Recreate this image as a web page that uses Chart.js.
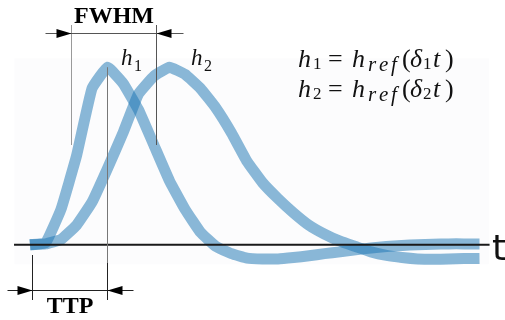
<!DOCTYPE html>
<html>
<head>
<meta charset="utf-8">
<script src="https://cdn.jsdelivr.net/npm/chart.js@4"></script>
<style>
  body { margin: 0; background: #fff; }
  canvas { display: block; }
</style>
</head>
<body>
<canvas id="hrf" width="505" height="320"></canvas>
<script>
// time samples (arbitrary units)
const t = [0,1,2,3,4,5,6,7,8,9,10,11,12,13,14,15,16,17,18,19,20,21,22,23,24,25,26,27,28,29];
// h1 = h_ref(d1 t)  (fast response)
const h1 = [0, 0.01, 0.2, 0.5, 0.88, 1.0, 0.91, 0.76, 0.56, 0.36, 0.2, 0.07, -0.01, -0.05, -0.075, -0.08,
  -0.08, -0.072, -0.062, -0.05, -0.04, -0.028, -0.018, -0.01, -0.004, 0.0, 0.003, 0.005, 0.005, 0.005];
// h2 = h_ref(d2 t)  (slow response)
const h2 = [0, 0.005, 0.03, 0.11, 0.24, 0.43, 0.63, 0.85, 0.95, 1.0, 0.96, 0.88, 0.77, 0.63, 0.47, 0.35,
  0.26, 0.18, 0.11, 0.06, 0.02, -0.01, -0.04, -0.06, -0.072, -0.08, -0.082, -0.08, -0.078, -0.077];

// annotation anchors, in data units
const fwhmFrom = 2.64, fwhmTo = 8.13;
const ttpFrom = 0.13, ttpPeak = 5;

const blue = "rgba(31,119,180,0.52)";
const toPts = (ys) => ys.map((y, i) => ({ x: t[i], y: y }));

function arrow(ctx, x, y, dir) {
  // filled arrow head with tip at (x,y); dir = 1 points right, -1 points left
  ctx.beginPath();
  ctx.moveTo(x, y);
  ctx.lineTo(x - dir * 15, y - 4.5);
  ctx.lineTo(x - dir * 15, y + 4.5);
  ctx.closePath();
  ctx.fill();
}

const FONTS = {
  i: "italic 26px 'Liberation Serif'",
  r: "26px 'Liberation Serif'",
  s: "17px 'Liberation Serif'",
  si: "italic 21px 'Liberation Serif'",
};

function mathText(ctx, parts, x, y) {
  // parts: [text, font kind, x offset, y offset]
  for (const [s, k, dx, dy] of parts) {
    ctx.font = FONTS[k];
    ctx.fillText(s, x + dx, y + dy);
  }
}

function equation(ctx, n, x, y) {
  mathText(ctx, [
    ["h", "i", 0, 0], [n, "s", 15, 2], ["=", "r", 30, 0], ["h", "i", 54, 0],
    ["r", "si", 70, 4], ["e", "si", 81, 4], ["f", "si", 93, 4],
    ["(", "r", 104, 0], ["δ", "i", 112, 0], [n, "s", 125, 2], ["t", "i", 135, 0], [")", "r", 147, 0],
  ], x, y);
}

const decor = {
  id: "decor",
  beforeDatasetsDraw(chart) {
    const { ctx, scales: { x, y } } = chart;
    ctx.save();
    ctx.fillStyle = "#fcfcfd";
    ctx.fillRect(x.getPixelForValue(-1.0), y.getPixelForValue(1.05), x.getPixelForValue(29.6) - x.getPixelForValue(-1.0),
      y.getPixelForValue(-0.11) - y.getPixelForValue(1.05));
    ctx.restore();
  },
  afterDatasetsDraw(chart) {
    const { ctx, scales: { x, y } } = chart;
    const y0 = y.getPixelForValue(0);
    ctx.save();
    // time axis
    ctx.strokeStyle = "#1a1a1a";
    ctx.lineWidth = 2;
    ctx.beginPath();
    ctx.moveTo(x.getPixelForValue(-1.03), y0);
    ctx.lineTo(x.getPixelForValue(29.65), y0);
    ctx.stroke();
    ctx.fillStyle = "#111";
    ctx.font = "36px 'DejaVu Sans'";
    ctx.textBaseline = "alphabetic";
    ctx.fillText("t", x.getPixelForValue(29.8), y0 + 15);

    // FWHM markers
    const fl = Math.round(x.getPixelForValue(fwhmFrom)) + 0.5;
    const fr = Math.round(x.getPixelForValue(fwhmTo)) + 0.5;
    ctx.lineWidth = 1;
    ctx.strokeStyle = "#9a9a9a";
    ctx.beginPath();
    ctx.moveTo(fl, 25); ctx.lineTo(fl, 145);
    ctx.stroke();
    ctx.strokeStyle = "#555";
    ctx.beginPath();
    ctx.moveTo(fr, 25); ctx.lineTo(fr, 145);
    ctx.moveTo(fl - 26, 33.5); ctx.lineTo(fr + 27, 33.5);
    ctx.stroke();
    ctx.fillStyle = "#000";
    arrow(ctx, fl, 33.5, 1);
    arrow(ctx, fr, 33.5, -1);
    ctx.font = "bold 24px 'Liberation Serif'";
    ctx.textAlign = "center";
    ctx.fillText("FWHM", (fl + fr) / 2, 23);

    // TTP markers
    const tl = Math.round(x.getPixelForValue(ttpFrom)) + 0.5;
    const tp = Math.round(x.getPixelForValue(ttpPeak)) + 0.5;
    ctx.strokeStyle = "#777";
    ctx.beginPath();
    ctx.moveTo(tp, y.getPixelForValue(1.0)); ctx.lineTo(tp, 263);
    ctx.stroke();
    ctx.strokeStyle = "#222";
    ctx.beginPath();
    ctx.moveTo(tp, 263); ctx.lineTo(tp, 300);
    ctx.moveTo(tl, 255); ctx.lineTo(tl, 300);
    ctx.moveTo(tl - 25, 290.5); ctx.lineTo(tp + 26, 290.5);
    ctx.stroke();
    arrow(ctx, tl, 290.5, 1);
    arrow(ctx, tp, 290.5, -1);
    ctx.fillText("TTP", (tl + tp) / 2, 313);

    // curve labels and equations
    ctx.textAlign = "left";
    ctx.fillStyle = "#111";
    ctx.font = "italic 23px 'Liberation Serif'";
    ctx.fillText("h", 121, 65);
    ctx.fillText("h", 191, 65);
    ctx.font = "16px 'Liberation Serif'";
    ctx.fillText("1", 134, 71);
    ctx.fillText("2", 204, 71);
    equation(ctx, "1", 298, 67);
    equation(ctx, "2", 298, 97);
    ctx.restore();
  }
};

new Chart(document.getElementById("hrf"), {
  type: "line",
  data: {
    datasets: [
      { label: "h1", data: toPts(h1), borderColor: blue, borderWidth: 11, pointRadius: 0,
        tension: 0.1, borderJoinStyle: "round", borderCapStyle: "butt" },
      { label: "h2", data: toPts(h2), borderColor: blue, borderWidth: 11, pointRadius: 0,
        tension: 0.1, borderJoinStyle: "round", borderCapStyle: "butt" },
    ],
  },
  options: {
    responsive: false,
    animation: false,
    layout: { padding: 0 },
    scales: {
      x: { type: "linear", display: false, min: -1.935, max: 30.645 },
      y: { display: false, min: -0.4237, max: 1.3785 },
    },
    plugins: {
      legend: { display: false },
      tooltip: { enabled: false },
    },
  },
  plugins: [decor],
});
</script>
</body>
</html>
